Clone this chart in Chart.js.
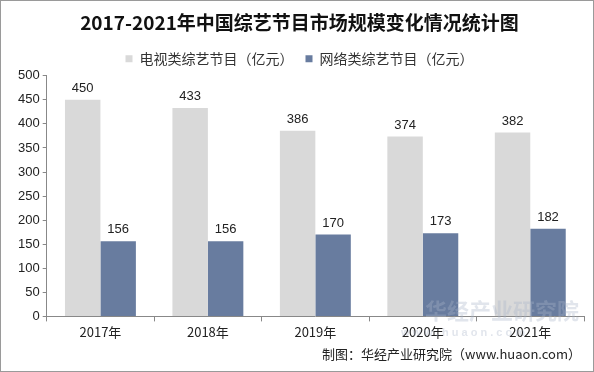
<!DOCTYPE html>
<html>
<head>
<meta charset="utf-8">
<script src="https://cdn.jsdelivr.net/npm/chart.js@4.4.0/dist/chart.umd.min.js"></script>
<style>
  html, body { margin: 0; padding: 0; background: #fff; }
  #wrap { position: relative; width: 592px; height: 370px; border: 1px solid #9a9a9a; }
  canvas { display: block; }
</style>
</head>
<body>
<div id="wrap"><canvas id="chart" width="592" height="370"></canvas></div>
<script>
/* ===== Data ===== */
const years = ["2017年", "2018年", "2019年", "2020年", "2021年"];
const tvShows = [450, 433, 386, 374, 382];
const webShows = [156, 156, 170, 173, 182];
const seriesNames = ["电视类综艺节目（亿元）", "网络类综艺节目（亿元）"];

const cjk = "'Noto Sans CJK SC', 'Liberation Sans', Arial, sans-serif";

// value labels above bars
const valueLabels = {
  id: "valueLabels",
  afterDatasetsDraw(chart) {
    const ctx = chart.ctx;
    ctx.save();
    ctx.font = "13px 'Liberation Sans', Arial, sans-serif";
    ctx.fillStyle = "#222";
    ctx.textAlign = "center";
    ctx.textBaseline = "bottom";
    chart.data.datasets.forEach((ds, i) => {
      chart.getDatasetMeta(i).data.forEach((bar, j) => {
        ctx.fillText(ds.data[j], bar.x, bar.y - 5);
      });
    });
    ctx.restore();
  }
};

// footer + faint watermark
const extras = {
  id: "extras",
  afterDraw(chart) {
    const ctx = chart.ctx;
    ctx.save();
    ctx.font = "bold 22px " + cjk;
    ctx.fillStyle = "rgba(170,180,200,0.35)";
    ctx.textAlign = "left";
    ctx.textBaseline = "middle";
    ctx.fillText("华经产业研究院", 424, 310);
    ctx.font = "bold 11px 'Liberation Sans', Arial";
    ctx.fillText("w w w . h u a o n . c o m", 400, 332);
    ctx.font = "13px " + cjk;
    ctx.fillStyle = "#222";
    ctx.textAlign = "right";
    ctx.fillText("制图：华经产业研究院（www.huaon.com）", 580, 353);
    ctx.restore();
  }
};

new Chart(document.getElementById("chart").getContext("2d"), {
  type: "bar",
  data: {
    labels: years,
    datasets: [
      { label: seriesNames[0], data: tvShows, backgroundColor: "#d9d9d9" },
      { label: seriesNames[1], data: webShows, backgroundColor: "#687c9f" }
    ]
  },
  options: {
    responsive: false,
    animation: false,
    datasets: { bar: { categoryPercentage: 0.66, barPercentage: 1.0 } },
    layout: { padding: { left: 14, right: 9, top: 4, bottom: 28 } },
    plugins: {
      title: {
        display: true,
        text: "2017-2021年中国综艺节目市场规模变化情况统计图",
        font: { family: cjk, size: 19, weight: "bold" },
        color: "#111",
        padding: { top: 6, bottom: 6 }
      },
      legend: {
        position: "top",
        labels: {
          boxWidth: 7, boxHeight: 7,
          font: { family: cjk, size: 14 },
          color: "#333",
          padding: 12
        }
      },
      tooltip: { enabled: false }
    },
    scales: {
      x: {
        grid: { display: true, drawOnChartArea: false, offset: true, tickLength: 5, color: "#888" },
        border: { color: "#888" },
        ticks: { font: { family: cjk, size: 13 }, color: "#222" }
      },
      y: {
        min: 0, max: 500,
        ticks: { stepSize: 50, font: { family: "'Liberation Sans', Arial", size: 13 }, color: "#222" },
        grid: { display: true, drawOnChartArea: false, tickLength: 4, color: "#888" },
        border: { color: "#888" }
      }
    }
  },
  plugins: [valueLabels, extras]
});
</script>
</body>
</html>
